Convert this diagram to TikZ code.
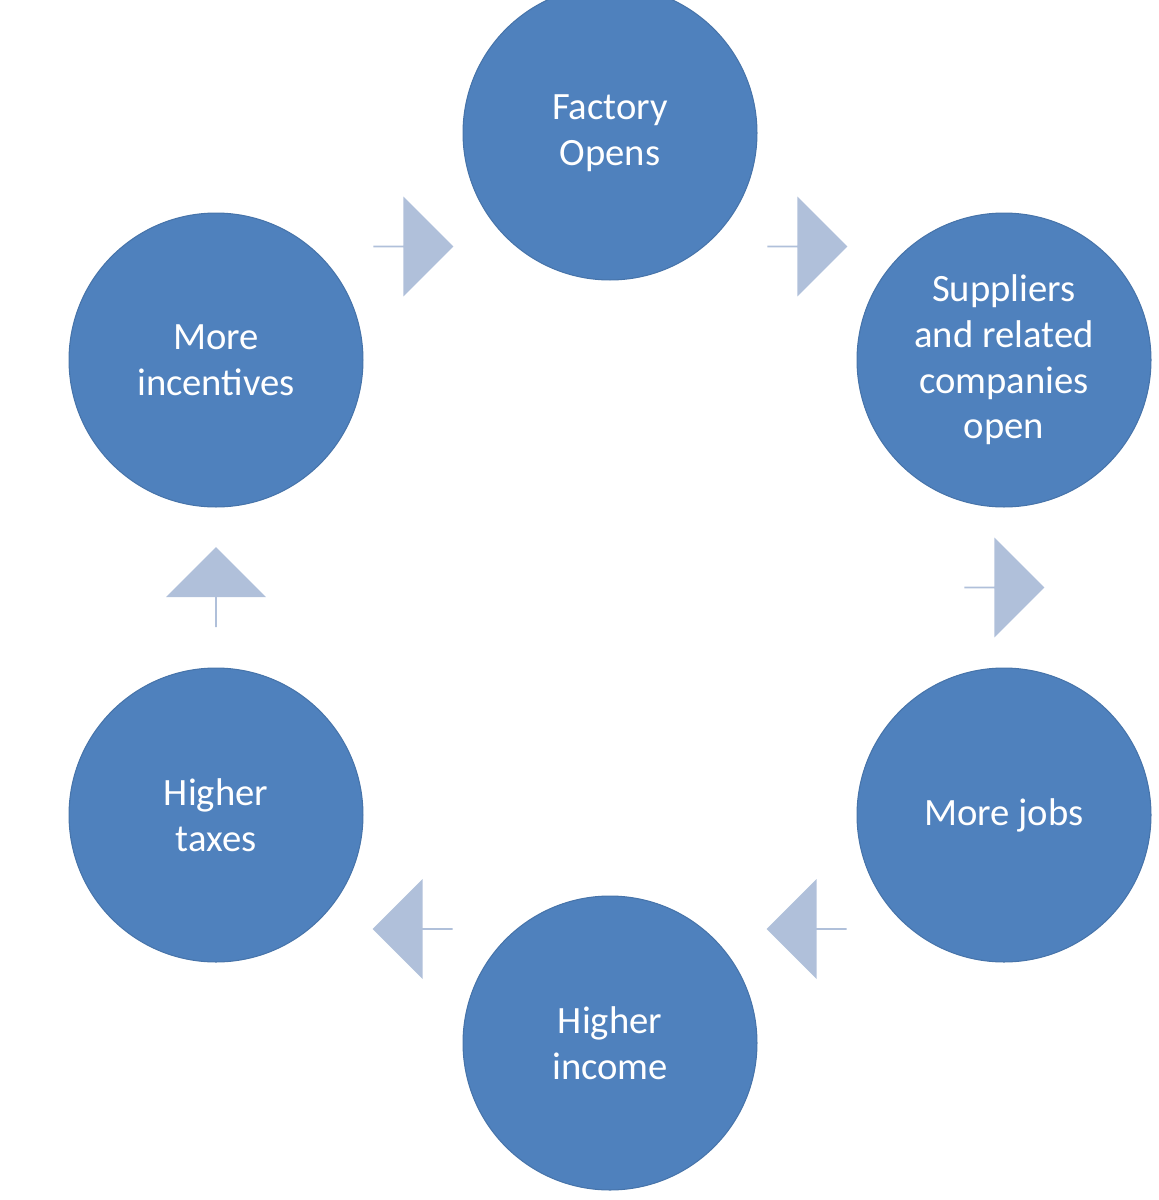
\documentclass[tikz,border=0pt]{standalone}
\usepackage{fontspec}
\setmainfont{Carlito}
\usetikzlibrary{shapes.arrows,calc}
\definecolor{stepblue}{HTML}{4F81BD}
\definecolor{arrowgrey}{HTML}{B0C0DA}
\tikzset{
  stage/.style={circle, fill=stepblue, draw=stepblue!90!black, line width=0.6pt,
    minimum size=5.88cm, inner sep=0pt, text=white, align=center,
    font=\fontsize{22}{26}\selectfont},
  flow/.style={single arrow, fill=arrowgrey, draw=none, minimum height=1.6cm,
    minimum width=2cm, single arrow head extend=0.4cm, inner sep=0pt}
}
\begin{document}
\begin{tikzpicture}[x=0.02cm,y=-0.02cm]
  \useasboundingbox (0,0) rectangle (1159,1200);

  % Stufen des Kreislaufs
  \node[stage] (fac) at (610,133) {Factory\\Opens};
  \node[stage] (sup) at (1004,360) {Suppliers\\and related\\companies\\open};
  \node[stage] (job) at (1004,815) {More jobs};
  \node[stage] (inc) at (610,1043) {Higher\\income};
  \node[stage] (tax) at (216,815) {Higher\\taxes};
  \node[stage] (inv) at (216,360) {More\\incentives};

  % Pfeile zwischen den Stufen
  \node[flow, shape border rotate=-30] (a1) at ($(fac)!0.5!(sup)$) {};
  \node[flow, shape border rotate=-90] (a2) at ($(sup)!0.5!(job)$) {};
  \node[flow, shape border rotate=210] (a3) at ($(job)!0.5!(inc)$) {};
  \node[flow, shape border rotate=150] (a4) at ($(inc)!0.5!(tax)$) {};
  \node[flow, shape border rotate=90]  (a5) at ($(tax)!0.5!(inv)$) {};
  \node[flow, shape border rotate=30]  (a6) at ($(inv)!0.5!(fac)$) {};
\end{tikzpicture}
\end{document}
